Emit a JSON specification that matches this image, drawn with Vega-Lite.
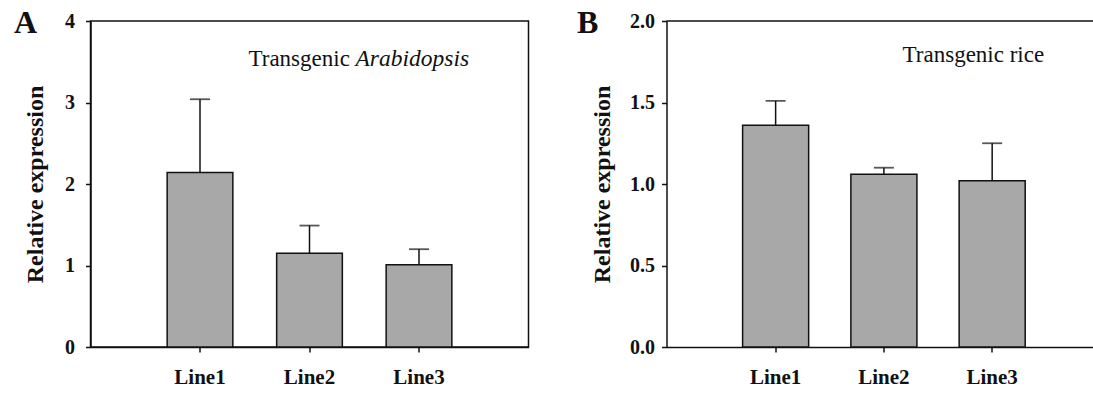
{
  "$schema": "https://vega.github.io/schema/vega-lite/v6.json",
  "padding": {"left": 12.5, "top": 6, "right": 0, "bottom": 0},
  "autosize": {"type": "pad"},
  "background": "white",
  "config": {
    "font": "Liberation Serif",
    "view": {"stroke": null},
    "axis": {
      "domainColor": "#111111", "domainWidth": 1.5,
      "tickColor": "#111111", "tickWidth": 1.5, "tickSize": 5,
      "labelFont": "Times New Roman", "labelFontWeight": "bold", "labelColor": "#111111",
      "titleFont": "Times New Roman", "titleFontWeight": "bold", "titleColor": "#111111",
      "grid": false
    },
    "title": {"font": "Liberation Serif", "fontWeight": "bold", "fontSize": 32, "anchor": "start", "frame": "bounds", "color": "#111111"},
    "concat": {"spacing": 47}
  },
  "datasets": {
    "arab": [
      {"line": "Line1", "value": 2.14, "upper": 3.04},
      {"line": "Line2", "value": 1.15, "upper": 1.49},
      {"line": "Line3", "value": 1.01, "upper": 1.20}
    ],
    "rice": [
      {"line": "Line1", "value": 1.36, "upper": 1.51},
      {"line": "Line2", "value": 1.06, "upper": 1.10},
      {"line": "Line3", "value": 1.02, "upper": 1.25}
    ],
    "noteA1": [{"line": "Line2", "y": 3.45, "t": "Transgenic"}],
    "noteA2": [{"line": "Line2", "y": 3.45, "t": "Arabidopsis"}],
    "noteB": [{"line": "Line3", "y": 1.75, "t": "Transgenic rice"}],
    "topB": [{"y": 2.0}]
  },
  "hconcat": [
    {
      "title": {"text": "A", "dx": -9.5, "offset": -29},
      "width": 438,
      "height": 326,
      "view": {"stroke": "#111111", "strokeWidth": 1.5},
      "layer": [
        {
          "data": {"name": "arab"},
          "mark": {"type": "bar", "fill": "#a8a8a8", "stroke": "#111111", "strokeWidth": 1.5},
          "encoding": {
            "x": {"field": "line", "type": "nominal",
                  "scale": {"paddingInner": 0.4, "paddingOuter": 0.7},
                  "axis": {"title": null, "labelAngle": 0, "labelFontSize": 21, "labelPadding": 14}},
            "y": {"field": "value", "type": "quantitative",
                  "scale": {"domain": [0, 4], "nice": false},
                  "axis": {"title": "Relative expression", "values": [0, 1, 2, 3, 4], "format": "d", "labelFontSize": 20, "labelPadding": 11, "titleFontSize": 24, "titlePadding": 17}}
          }
        },
        {
          "data": {"name": "arab"},
          "mark": {"type": "rule", "stroke": "#111111", "strokeWidth": 1.5},
          "encoding": {
            "x": {"field": "line", "type": "nominal"},
            "y": {"field": "value", "type": "quantitative"},
            "y2": {"field": "upper"}
          }
        },
        {
          "data": {"name": "arab"},
          "mark": {"type": "tick", "orient": "horizontal", "color": "#111111", "size": 20, "thickness": 1.8},
          "encoding": {
            "x": {"field": "line", "type": "nominal"},
            "y": {"field": "upper", "type": "quantitative"}
          }
        },
        {
          "data": {"name": "noteA1"},
          "mark": {"type": "text", "align": "left", "baseline": "alphabetic", "dx": -61, "fontSize": 23, "font": "Liberation Serif", "color": "#111111"},
          "encoding": {
            "x": {"field": "line", "type": "nominal"},
            "y": {"field": "y", "type": "quantitative"},
            "text": {"field": "t"}
          }
        },
        {
          "data": {"name": "noteA2"},
          "mark": {"type": "text", "align": "left", "baseline": "alphabetic", "dx": 46, "fontSize": 23.5, "fontStyle": "italic", "font": "Liberation Serif", "color": "#111111"},
          "encoding": {
            "x": {"field": "line", "type": "nominal"},
            "y": {"field": "y", "type": "quantitative"},
            "text": {"field": "t"}
          }
        }
      ]
    },
    {
      "title": {"text": "B", "dx": -13.5, "offset": -29},
      "width": 427,
      "height": 326,
      "layer": [
        {
          "data": {"name": "rice"},
          "mark": {"type": "bar", "fill": "#a8a8a8", "stroke": "#111111", "strokeWidth": 1.5},
          "encoding": {
            "x": {"field": "line", "type": "nominal",
                  "scale": {"paddingInner": 0.39, "paddingOuter": 0.667, "align": 0.527},
                  "axis": {"title": null, "labelAngle": 0, "labelFontSize": 21, "labelPadding": 14}},
            "y": {"field": "value", "type": "quantitative",
                  "scale": {"domain": [0, 2], "nice": false},
                  "axis": {"title": "Relative expression", "values": [0, 0.5, 1, 1.5, 2], "format": ".1f", "labelFontSize": 20, "labelPadding": 7, "titleFontSize": 24, "titlePadding": 15}}
          }
        },
        {
          "data": {"name": "rice"},
          "mark": {"type": "rule", "stroke": "#111111", "strokeWidth": 1.5},
          "encoding": {
            "x": {"field": "line", "type": "nominal"},
            "y": {"field": "value", "type": "quantitative"},
            "y2": {"field": "upper"}
          }
        },
        {
          "data": {"name": "rice"},
          "mark": {"type": "tick", "orient": "horizontal", "color": "#111111", "size": 20, "thickness": 1.8},
          "encoding": {
            "x": {"field": "line", "type": "nominal"},
            "y": {"field": "upper", "type": "quantitative"}
          }
        },
        {
          "data": {"name": "topB"},
          "mark": {"type": "rule", "stroke": "#111111", "strokeWidth": 1.5},
          "encoding": {
            "y": {"field": "y", "type": "quantitative"}
          }
        },
        {
          "data": {"name": "noteB"},
          "mark": {"type": "text", "align": "right", "baseline": "alphabetic", "dx": 52, "fontSize": 23, "font": "Liberation Serif", "color": "#111111"},
          "encoding": {
            "x": {"field": "line", "type": "nominal"},
            "y": {"field": "y", "type": "quantitative"},
            "text": {"field": "t"}
          }
        }
      ]
    }
  ]
}
